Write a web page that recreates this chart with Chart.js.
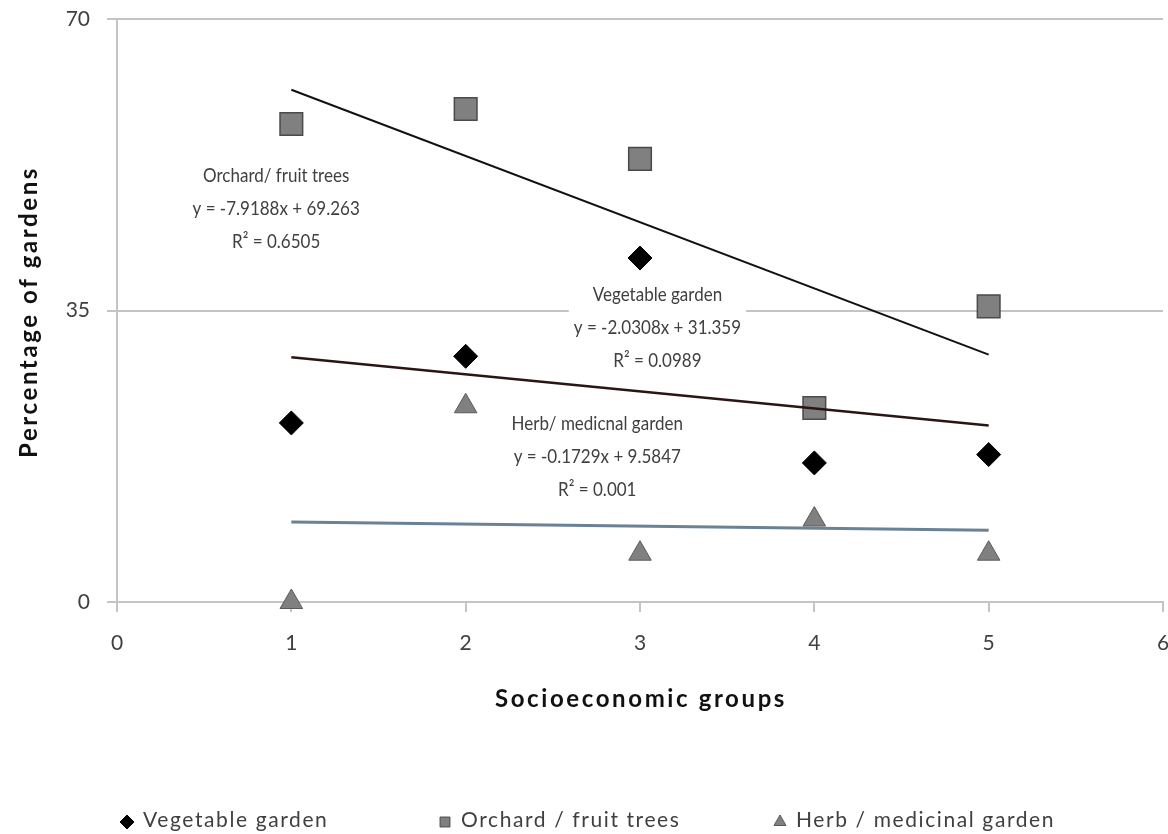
<!DOCTYPE html>
<html>
<head>
<meta charset="utf-8">
<script src="https://cdn.jsdelivr.net/npm/chart.js@4.4.0/dist/chart.umd.min.js"></script>
<style>
  html, body { margin: 0; padding: 0; background: #fff; }
</style>
</head>
<body>
<canvas id="myChart" width="1168" height="834"></canvas>
<script>
// values
const groups = [1, 2, 3, 4, 5];
const vegetable = [21.5, 29.5, 41.3, 16.7, 17.7];
const orchard = [57.4, 59.2, 53.2, 23.3, 35.5];
const herb = [0, 23.5, 5.8, 9.9, 5.8];

// trendline ends (at group 1 and group 5)
const trendX = [1, 5];
const orchardTrend = [61.5, 29.7];
const vegetableTrend = [29.4, 21.2];
const herbTrend = [9.6, 8.6];

const seriesNames = ['Vegetable garden', 'Orchard / fruit trees', 'Herb / medicinal garden'];

// trendline labels: anchor (data units) of the first line + the lines
const trendLabels = [
  { x: 0.913, y: 51.2, lines: ['Orchard/ fruit trees', 'y = -7.9188x + 69.263', 'R² = 0.6505'] },
  { x: 3.1, y: 36.9, lines: ['Vegetable garden', 'y = -2.0308x + 31.359', 'R² = 0.0989'] },
  { x: 2.755, y: 21.4, lines: ['Herb/ medicnal garden', 'y = -0.1729x + 9.5847', 'R² = 0.001'] },
];

const FONT = 'Lato, "Open Sans", sans-serif';
const textColor = '#404040';
const gridColor = '#c4c4c4';

const toPoints = (xs, ys) => xs.map((x, i) => ({ x: x, y: ys[i] }));

// keep tick label room from eating into the plot area
const noPadding = (scale) => {
  scale.paddingLeft = 0;
  scale.paddingRight = 0;
  scale.paddingTop = 0;
  scale.paddingBottom = 0;
};

const extras = {
  id: 'extras',
  afterDatasetsDraw(chart) {
    const ctx = chart.ctx;
    const xs = chart.scales.x;
    const ys = chart.scales.y;
    const area = chart.chartArea;
    const squeeze = 0.85; // narrower text, like the original font
    ctx.save();

    // trendline labels
    ctx.font = '20px ' + FONT;
    ctx.textAlign = 'center';
    ctx.textBaseline = 'middle';
    trendLabels.forEach((lab) => {
      const cx = xs.getPixelForValue(lab.x);
      const cy = ys.getPixelForValue(lab.y);
      const w = squeeze * Math.max(...lab.lines.map((l) => ctx.measureText(l).width));
      ctx.fillStyle = '#fff';
      ctx.fillRect(cx - w / 2 - 5, cy - 15, w + 10, 33 * (lab.lines.length - 1) + 30);
      ctx.fillStyle = textColor;
      lab.lines.forEach((l, i) => {
        ctx.save();
        ctx.translate(cx, cy + i * 33);
        ctx.scale(squeeze, 1);
        ctx.fillText(l, 0, 0);
        ctx.restore();
      });
    });

    // axis titles
    ctx.fillStyle = '#111';
    ctx.font = 'bold 24px ' + FONT;
    ctx.letterSpacing = '2.6px';
    ctx.fillText('Socioeconomic groups', (area.left + area.right) / 2 + 1, 699);
    ctx.save();
    ctx.translate(29, 312);
    ctx.rotate(-Math.PI / 2);
    ctx.fillText('Percentage of gardens', 0, 0);
    ctx.restore();

    // legend
    const legendX = [127, 445, 780];
    ctx.font = '21px ' + FONT;
    ctx.letterSpacing = '1.6px';
    ctx.textAlign = 'left';
    chart.data.datasets.slice(0, 3).forEach((ds, i) => {
      ctx.fillStyle = ds.backgroundColor;
      ctx.strokeStyle = ds.borderColor;
      ctx.lineWidth = 1;
      Chart.helpers.drawPoint(ctx, { pointStyle: ds.pointStyle, radius: ds.legendRadius, rotation: 0, borderWidth: 1 }, legendX[i], 822);
      ctx.fillStyle = textColor;
      ctx.fillText(seriesNames[i], legendX[i] + 16, 820);
    });
    ctx.restore();
  },
};

const ctx = document.getElementById('myChart');
new Chart(ctx, {
  type: 'scatter',
  data: {
    datasets: [
      {
        label: seriesNames[0],
        data: toPoints(groups, vegetable),
        pointStyle: 'rectRot',
        pointRadius: 12,
        backgroundColor: '#000',
        borderColor: '#000',
        borderWidth: 1,
        legendRadius: 7,
        clip: false,
        order: 2,
      },
      {
        label: seriesNames[1],
        data: toPoints(groups, orchard),
        pointStyle: 'rect',
        pointRadius: 16,
        backgroundColor: '#808080',
        borderColor: '#4a4a4a',
        borderWidth: 1.5,
        legendRadius: 7,
        clip: false,
        order: 2,
      },
      {
        label: seriesNames[2],
        data: toPoints(groups, herb),
        pointStyle: 'triangle',
        pointRadius: 13,
        backgroundColor: '#808080',
        borderColor: '#5a5a5a',
        borderWidth: 1,
        legendRadius: 7,
        clip: false,
        order: 2,
      },
      {
        label: 'Orchard trend',
        data: toPoints(trendX, orchardTrend),
        showLine: true,
        pointRadius: 0,
        borderColor: '#111',
        borderWidth: 2,
        order: 1,
      },
      {
        label: 'Vegetable trend',
        data: toPoints(trendX, vegetableTrend),
        showLine: true,
        pointRadius: 0,
        borderColor: '#2b1414',
        borderWidth: 2.5,
        order: 1,
      },
      {
        label: 'Herb trend',
        data: toPoints(trendX, herbTrend),
        showLine: true,
        pointRadius: 0,
        borderColor: '#6a8296',
        borderWidth: 3,
        order: 1,
      },
    ],
  },
  options: {
    responsive: false,
    animation: false,
    layout: { autoPadding: false, padding: { top: 19, right: 5, left: 0, bottom: 0 } },
    plugins: {
      legend: { display: false },
      tooltip: { enabled: false },
    },
    scales: {
      x: {
        type: 'linear',
        min: 0,
        max: 6,
        ticks: { stepSize: 1, color: textColor, font: { family: FONT, size: 21 }, padding: 19 },
        grid: { drawOnChartArea: false, drawTicks: true, tickLength: 10, color: gridColor, lineWidth: 2 },
        border: { color: gridColor, width: 2 },
        afterFit: (scale) => { scale.height = 232; noPadding(scale); },
      },
      y: {
        type: 'linear',
        min: 0,
        max: 70,
        ticks: { stepSize: 35, color: textColor, font: { family: FONT, size: 21 }, padding: 17 },
        grid: { drawTicks: true, tickLength: 10, color: gridColor, lineWidth: 2 },
        border: { color: gridColor, width: 2 },
        afterFit: (scale) => { scale.width = 117; noPadding(scale); },
      },
    },
  },
  plugins: [extras],
});
</script>
</body>
</html>
